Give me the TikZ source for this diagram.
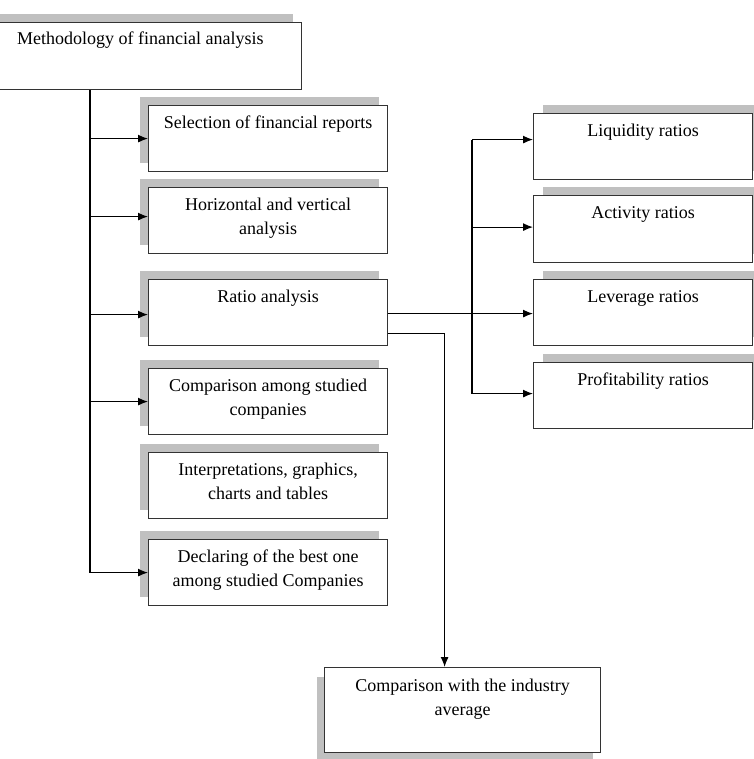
\documentclass[tikz,border=0pt]{standalone}
\usepackage{fontspec}
\setmainfont{Liberation Serif}
\usetikzlibrary{shadows,arrows.meta,calc}
\definecolor{shgray}{HTML}{C0C0C0}
\definecolor{edge}{HTML}{333333}
\tikzset{
  x=1pt, y=-1pt,
  box/.style={draw=edge, line width=1.2pt, fill=white, inner sep=0pt},
  lshadow/.style={drop shadow={shadow xshift=-9pt, shadow yshift=9pt, fill=shgray, opacity=1}},
  rshadow/.style={drop shadow={shadow xshift=9pt, shadow yshift=9pt, fill=shgray, opacity=1}},
  bshadow/.style={drop shadow={shadow xshift=-8pt, shadow yshift=-9pt, fill=shgray, opacity=1}},
  lbl/.style={inner sep=0pt, align=center, anchor=north, font=\fontsize{18}{24}\selectfont},
  conn/.style={draw=black, line width=1.2pt},
  arr/.style={conn, -{Latex[length=10pt,width=8pt]}}
}
\begin{document}
\begin{tikzpicture}
\useasboundingbox (0,0) rectangle (753,759);
% top box
\node[box, lshadow, minimum width=305pt, minimum height=67pt, anchor=north west] (top) at (-4,22) {};
\node[lbl, anchor=base west] (topt) at ([xshift=21pt,yshift=-23pt]top.north west) {Methodology of financial analysis};
% left boxes
\foreach \n/\t/\b in {b1/105/171, b2/187/253, b3/279/345, b4/368/434, b5/452/518, b6/539/605}{
  \node[box, lshadow, minimum width=239pt, minimum height={\b-\t}, anchor=north west] (\n) at (148,\t) {};
}
\node[lbl] (b1t) at ([yshift=-6.2pt]b1.north) {\strut Selection of financial reports};
\node[lbl] (b2t) at ([yshift=-6.2pt]b2.north) {\strut Horizontal and vertical\\analysis};
\node[lbl] (b3t) at ([yshift=-6.2pt]b3.north) {\strut Ratio analysis};
\node[lbl] (b4t) at ([yshift=-6.2pt]b4.north) {\strut Comparison among studied\\companies};
\node[lbl] (b5t) at ([yshift=-6.2pt]b5.north) {\strut Interpretations, graphics,\\charts and tables};
\node[lbl] (b6t) at ([yshift=-6.2pt]b6.north) {\strut Declaring of the best one\\among studied Companies};
% right boxes
\foreach \n/\t/\b in {r1/113/179, r2/195/262, r3/279/345, r4/362/428}{
  \node[box, rshadow, minimum width=219pt, minimum height={\b-\t}, anchor=north west] (\n) at (533,\t) {};
}
\node[lbl] (r1t) at ([yshift=-6.2pt]r1.north) {\strut Liquidity ratios};
\node[lbl] (r2t) at ([yshift=-6.2pt]r2.north) {\strut Activity ratios};
\node[lbl] (r3t) at ([yshift=-6.2pt]r3.north) {\strut Leverage ratios};
\node[lbl] (r4t) at ([yshift=-6.2pt]r4.north) {\strut Profitability ratios};
% bottom box
\node[box, bshadow, minimum width=276pt, minimum height=85pt, anchor=north west] (bot) at (324,667) {};
\node[lbl] (bott) at ([yshift=-7.2pt]bot.north) {\strut Comparison with the industry\\average};
% connectors
\coordinate (lt) at (90,89);
\coordinate (rt) at (472,139);
\draw[conn] (top.south -| lt) -- (b6.west -| lt);
\foreach \n/\s in {b1/0,b2/4,b3/-2,b4/0,b6/0}{
  \draw[arr] ([yshift=\s pt]\n.west -| lt) -- ([yshift=\s pt]\n.west);
}
\draw[conn] ([yshift=7pt]r1.west -| rt) -- ([yshift=2pt]r4.west -| rt);
\foreach \n/\s in {r1/7,r2/2,r4/2}{
  \draw[arr] ([yshift=\s pt]\n.west -| rt) -- ([yshift=\s pt]\n.west);
}
\draw[arr] ([yshift=-1pt]b3.east) -- ([yshift=-1pt]r3.west);
\draw[arr] ([yshift=-21pt]b3.east) -| ([xshift=-18pt]bot.north);
\end{tikzpicture}
\end{document}
